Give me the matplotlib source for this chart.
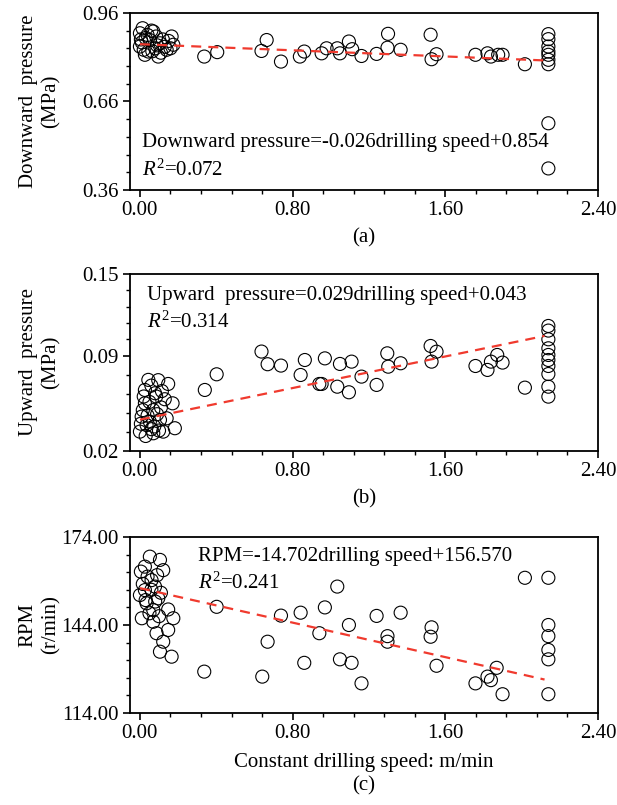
import numpy as np
import matplotlib
matplotlib.use("Agg")
from matplotlib import pyplot as plt
from matplotlib.ticker import FixedLocator, FormatStrFormatter

plt.rcParams['font.family'] = ['Liberation Serif', 'DejaVu Serif']
plt.rcParams['mathtext.fontset'] = 'custom'
plt.rcParams['mathtext.rm'] = 'Liberation Serif'
plt.rcParams['mathtext.it'] = 'Liberation Serif:italic'

# ---- data ----
# (a) downward pressure, MPa
down_x = [0.014, 0.0, 0.07, 0.166, 0.175, 0.044, 0.096, 0.026, 0.14, 0.0, 0.105,
          0.052, 0.03, 0.08, 0.12, 0.06, 0.01, 0.11, 0.15, 0.04, 0.09, 0.02,
          0.13, 0.065, 0.005, 0.16, 0.085,
          0.337, 0.405, 0.664, 0.637, 0.739, 0.838, 0.861, 0.952, 0.978, 1.034,
          1.048, 1.095, 1.112, 1.161, 1.24, 1.30, 1.297, 1.366, 1.523, 1.554,
          1.528, 1.758, 1.821, 1.839, 1.877, 1.90, 2.017,
          2.14, 2.14, 2.14, 2.14, 2.14, 2.14, 2.14, 2.14, 2.14]
down_y = [0.908, 0.891, 0.897, 0.880, 0.852, 0.829, 0.812, 0.818, 0.835, 0.846, 0.857,
          0.868, 0.875, 0.840, 0.870, 0.900, 0.860, 0.825, 0.865, 0.885, 0.850, 0.835,
          0.845, 0.830, 0.870, 0.840, 0.880,
          0.812, 0.827, 0.868, 0.831, 0.795, 0.812, 0.829, 0.823, 0.840, 0.840,
          0.823, 0.863, 0.837, 0.814, 0.821, 0.889, 0.842, 0.835, 0.886, 0.820,
          0.803, 0.818, 0.823, 0.812, 0.818, 0.818, 0.786,
          0.888, 0.871, 0.846, 0.829, 0.818, 0.801, 0.786, 0.586, 0.433]

# (b) upward pressure, MPa
up_x = [0.044, 0.096, 0.148, 0.026, 0.079, 0.171, 0.026, 0.07, 0.009, 0.105,
        0.183, 0.07, 0.0, 0.122, 0.052, 0.02, 0.06, 0.13, 0.09, 0.035, 0.11,
        0.015, 0.05, 0.085, 0.115, 0.04, 0.075, 0.005, 0.1, 0.06, 0.03, 0.14,
        0.34, 0.402, 0.637, 0.669, 0.739, 0.864, 0.842, 0.94,
        0.969, 0.952, 1.048, 1.109, 1.034, 1.095, 1.161, 1.24, 1.296, 1.301,
        1.366, 1.523, 1.554, 1.528, 1.758, 1.821, 1.839, 1.872, 1.90, 2.017,
        2.14, 2.14, 2.14, 2.14, 2.14, 2.14, 2.14, 2.14, 2.14, 2.14]
up_y = [0.0722, 0.0720, 0.0692, 0.0648, 0.0624, 0.0550, 0.0550, 0.0500, 0.0452, 0.0428,
        0.0367, 0.0330, 0.0342, 0.0342, 0.0415, 0.0600, 0.0680, 0.0580, 0.0470, 0.0390, 0.0520,
        0.0500, 0.0560, 0.0600, 0.0640, 0.0460, 0.0380, 0.0400, 0.0350, 0.0360, 0.0310, 0.0440,
        0.0648, 0.0763, 0.0930, 0.0837, 0.0827, 0.0868, 0.0758, 0.0692,
        0.0880, 0.0692, 0.0839, 0.0856, 0.0672, 0.0631, 0.0746, 0.0685, 0.0917, 0.0819,
        0.0844, 0.0971, 0.0929, 0.0856, 0.0824, 0.0795, 0.0856, 0.0905, 0.0849, 0.0665,
        0.1118, 0.1084, 0.1020, 0.0954, 0.0905, 0.0868, 0.0824, 0.0765, 0.0672, 0.0599]

# (c) RPM, r/min
rpm_x = [0.052, 0.105, 0.005, 0.061, 0.122, 0.026, 0.0, 0.096, 0.035, 0.07,
         0.148, 0.175, 0.01, 0.07, 0.148, 0.087, 0.122, 0.105, 0.166, 0.026, 0.079,
         0.04, 0.09, 0.015, 0.06, 0.11, 0.03, 0.08, 0.05, 0.1,
         0.402, 0.337, 0.641, 0.669, 0.739, 0.842, 0.861, 0.94,
         1.034, 0.969, 1.095, 1.048, 1.109, 1.161, 1.24, 1.366, 1.297, 1.297,
         1.528, 1.523, 1.554, 1.758, 1.821, 1.839, 1.869, 1.90, 2.017,
         2.14, 2.14, 2.14, 2.14, 2.14, 2.14]
rpm_y = [167.3, 166.2, 162.2, 159.3, 162.7, 163.9, 154.2, 153.1, 151.4, 149.1,
         149.3, 146.3, 146.3, 145.1, 142.3, 141.2, 138.3, 134.9, 133.2, 155.9, 157.1,
         160.5, 161.0, 158.0, 156.0, 155.0, 152.5, 152.0, 148.0, 147.0,
         150.2, 128.1, 126.4, 138.3, 147.2, 148.2, 131.1, 141.2,
         157.1, 150.0, 144.0, 132.3, 131.1, 124.1, 147.1, 148.2, 140.2, 138.3,
         143.2, 140.0, 130.1, 124.1, 126.4, 125.2, 129.4, 120.4, 160.1,
         160.1, 144.0, 140.2, 135.5, 132.3, 120.4]

fits = [(-0.026, 0.854), (0.029, 0.043), (-14.702, 156.570)]
fit_range = (0.0, 2.12)

eqs = ['Downward pressure=-0.026drilling speed+0.854',
       'Upward  pressure=0.029drilling speed+0.043',
       'RPM=-14.702drilling speed+156.570']
r2 = ['0.072', '0.314', '0.241']
ylabels = ['Downward  pressure\n(MPa)', 'Upward  pressure\n(MPa)', 'RPM\n(r/min)']
panel_tags = ['(a)', '(b)', '(c)']

yticks = [[0.36, 0.66, 0.96], [0.02, 0.09, 0.15], [114.0, 144.0, 174.0]]
yminor = [np.arange(0.36, 0.961, 0.06),
          list(np.arange(0.02, 0.09, 0.014)) + list(np.arange(0.09, 0.151, 0.012)),
          np.arange(114, 174.1, 6)]
xticks = [0.0, 0.8, 1.6, 2.4]

fs = 15
fig = plt.figure(figsize=(6.17, 8.05), dpi=100)
rects = [[0.2107, 0.764, 0.7585, 0.22],
         [0.2107, 0.4398, 0.7585, 0.2199],
         [0.2107, 0.1143, 0.7585, 0.2186]]
xs = [down_x, up_x, rpm_x]
ys = [down_y, up_y, rpm_y]
eq_pos = [(0.026, 0.27, 0.11), (0.036, 0.88, 0.725), (0.145, 0.892, 0.74)]
label_y = [238, 499, 786]

for i in range(3):
  ax = fig.add_axes(rects[i])
  ax.scatter(xs[i], ys[i], s=88, facecolors='none', edgecolors='black',
             linewidths=0.8, zorder=2)
  k, b = fits[i]
  lx = np.array(fit_range)
  ax.plot(lx, k*lx + b, color='#f03a2e', lw=1.6, ls=(0, (4.5, 3.2)), zorder=3)

  ax.set_xlim(-0.052, 2.4)
  ax.set_ylim(yticks[i][0], yticks[i][-1])
  ax.set_xticks(xticks)
  ax.xaxis.set_minor_locator(FixedLocator(np.arange(0, 2.41, 0.16)))
  ax.set_yticks(yticks[i])
  ax.yaxis.set_minor_locator(FixedLocator(yminor[i]))
  ax.xaxis.set_major_formatter(FormatStrFormatter('%.2f'))
  ax.yaxis.set_major_formatter(FormatStrFormatter('%.2f'))
  ax.tick_params(which='major', direction='out', length=5, width=1.2,
                 labelsize=fs, pad=3)
  ax.tick_params(which='minor', direction='out', length=3, width=1.0)
  for sp in ax.spines.values():
    sp.set_linewidth(1.3)

  tx, ty, ry = eq_pos[i]
  ax.text(tx, ty, eqs[i], transform=ax.transAxes, fontsize=fs,
          ha='left', va='center')
  ax.text(tx, ry, '$R^2$=' + r2[i], transform=ax.transAxes, fontsize=fs,
          ha='left', va='center')

  cy = rects[i][1] + rects[i][3]/2
  fig.text(0.064, cy, ylabels[i], rotation=90, fontsize=fs, ha='center',
           va='center', multialignment='center', linespacing=1.25)
  fig.text(364/617, 1 - label_y[i]/805, panel_tags[i], fontsize=fs,
           ha='center', va='center')

fig.text(364/617, 1 - 762/805, 'Constant drilling speed: m/min', fontsize=fs,
         ha='center', va='center')

plt.savefig('out.png', dpi=100)
